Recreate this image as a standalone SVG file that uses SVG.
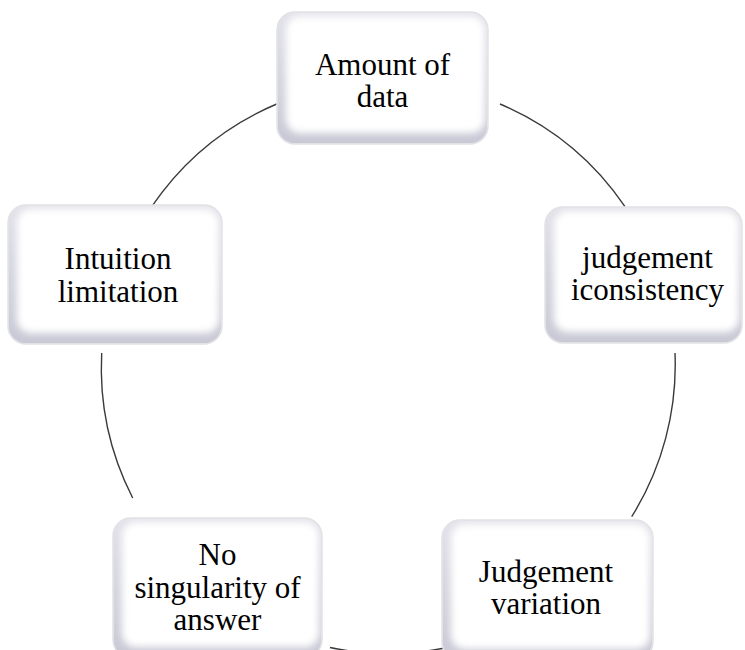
<svg xmlns="http://www.w3.org/2000/svg" width="745" height="650" viewBox="0 0 745 650">
  <defs>
    <!-- soft bevel: white face blurred over a lavender-grey base -->
    <filter id="soft" x="-10%" y="-10%" width="120%" height="120%">
      <feGaussianBlur stdDeviation="3.5"/>
    </filter>
    <linearGradient id="base" x1="0" y1="0" x2="0" y2="1">
      <stop offset="0" stop-color="#e2e2ea"/>
      <stop offset="1" stop-color="#c9c9d6"/>
    </linearGradient>
    <clipPath id="c-top"><rect x="277" y="12" width="211" height="132" rx="18"/></clipPath>
    <clipPath id="c-right"><rect x="545" y="207" width="197" height="136" rx="18"/></clipPath>
    <clipPath id="c-left"><rect x="8" y="205" width="214" height="139" rx="18"/></clipPath>
    <clipPath id="c-bl"><rect x="113" y="518" width="209" height="140" rx="18"/></clipPath>
    <clipPath id="c-br"><rect x="442" y="520" width="211" height="140" rx="18"/></clipPath>
  </defs>
  <style>
    .edge { fill: url(#base); stroke: #e4e4e8; stroke-width: 1.5; }
    .face { fill: #ffffff; filter: url(#soft); }
    .arc { fill: none; stroke: #3a3a3a; stroke-width: 1.4; }
    .label { font-family: "Liberation Serif", "Times New Roman", serif; font-size: 31px; fill: #000; text-anchor: middle; }
  </style>

  <rect width="745" height="650" fill="#ffffff"/>

  <!-- circular connectors between neighbouring nodes (centre 388.3,367.4) -->
  <g id="connectors">
    <path class="arc" d="M 276.7 104 A 286.5 286.5 0 0 0 151.7 206.7"/>
    <path class="arc" d="M 500 104 A 286.5 286.5 0 0 1 625 206.7"/>
    <path class="arc" d="M 675 353 A 286.5 286.5 0 0 1 631.7 516.7"/>
    <path class="arc" d="M 101.7 353 A 286.5 286.5 0 0 0 132.7 498"/>
    <path class="arc" d="M 330 647.5 A 286.5 286.5 0 0 0 447 647.5"/>
  </g>

  <g id="node-amount">
    <g clip-path="url(#c-top)">
      <rect class="edge" x="277" y="12" width="211" height="132" rx="18"/>
      <rect class="face" x="286" y="16" width="199" height="117" rx="14"/>
    </g>
    <rect x="277" y="12" width="211" height="132" rx="18" fill="none" stroke="#e2e2e6" stroke-width="1.5"/>
    <text class="label" x="382.5" y="75">Amount of</text>
    <text class="label" x="382.5" y="107">data</text>
  </g>

  <g id="node-consistency">
    <g clip-path="url(#c-right)">
      <rect class="edge" x="545" y="207" width="197" height="136" rx="18"/>
      <rect class="face" x="554" y="211" width="185" height="121" rx="14"/>
    </g>
    <rect x="545" y="207" width="197" height="136" rx="18" fill="none" stroke="#e2e2e6" stroke-width="1.5"/>
    <text class="label" x="647.5" y="268">judgement</text>
    <text class="label" x="647.5" y="300">iconsistency</text>
  </g>

  <g id="node-intuition">
    <g clip-path="url(#c-left)">
      <rect class="edge" x="8" y="205" width="214" height="139" rx="18"/>
      <rect class="face" x="17" y="209" width="202" height="124" rx="14"/>
    </g>
    <rect x="8" y="205" width="214" height="139" rx="18" fill="none" stroke="#e2e2e6" stroke-width="1.5"/>
    <text class="label" x="118" y="269">Intuition</text>
    <text class="label" x="118" y="301.5">limitation</text>
  </g>

  <g id="node-singularity">
    <g clip-path="url(#c-bl)">
      <rect class="edge" x="113" y="518" width="209" height="140" rx="18"/>
      <rect class="face" x="122" y="522" width="197" height="125" rx="14"/>
    </g>
    <rect x="113" y="518" width="209" height="140" rx="18" fill="none" stroke="#e2e2e6" stroke-width="1.5"/>
    <text class="label" x="217.5" y="565">No</text>
    <text class="label" x="217.5" y="597.5">singularity of</text>
    <text class="label" x="217.5" y="630">answer</text>
  </g>

  <g id="node-variation">
    <g clip-path="url(#c-br)">
      <rect class="edge" x="442" y="520" width="211" height="140" rx="18"/>
      <rect class="face" x="451" y="524" width="199" height="125" rx="14"/>
    </g>
    <rect x="442" y="520" width="211" height="140" rx="18" fill="none" stroke="#e2e2e6" stroke-width="1.5"/>
    <text class="label" x="546" y="581.5">Judgement</text>
    <text class="label" x="546" y="614">variation</text>
  </g>
</svg>
